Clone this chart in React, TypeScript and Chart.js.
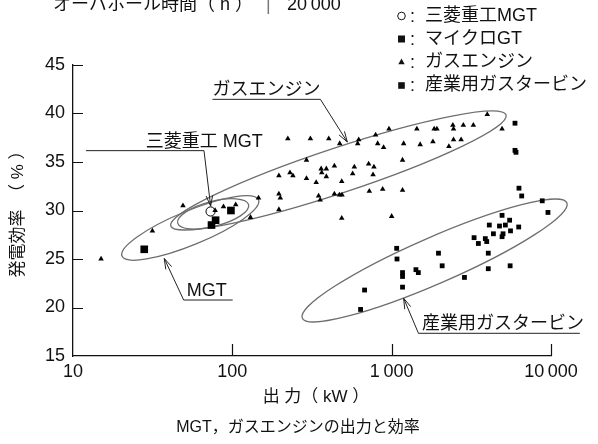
import { useEffect, useRef } from "react";
import { Chart, registerables } from "chart.js";

Chart.register(...registerables);

type Pt = [number, number];

// Output (kW) vs. generating efficiency (%)
const X_TICKS = [10, 100, 1000, 10000];
const X_TICK_LABELS = ["10", "100", "1\u2009000", "10\u2009000"];
const Y_MIN = 15;
const Y_MAX = 45;
const Y_STEP = 5;

const LEGEND_LABELS = ["三菱重工MGT", "マイクロGT", "ガスエンジン", "産業用ガスタービン"];

const MHI_MGT: Pt[] = [[73, 29.9]];

const MICRO_GT: Pt[] = [
  [28, 26.0], [74, 28.5], [78.5, 29.0], [98, 30.0],
];

const GAS_ENGINE: Pt[] = [
  [15, 25.0], [31.5, 27.9], [49, 30.5], [78, 30.0], [88, 30.4], [105, 30.6],
  [130, 29.3], [146, 31.3], [196, 30.1], [196, 31.7], [200, 31.3], [196, 33.6],
  [230, 33.9], [240, 33.6], [292, 33.3], [292, 35.2], [223, 37.4], [309, 37.4],
  [403, 37.4], [472, 36.9], [336, 32.9], [361, 34.3], [389, 34.3], [364, 33.9],
  [389, 33.5], [437, 34.6], [348, 31.5], [356, 31.1], [437, 31.7], [470, 31.6],
  [488, 31.6], [486, 33.0], [486, 29.2], [569, 33.8], [583, 34.5], [612, 36.9],
  [621, 37.3], [717, 34.8], [774, 34.5], [764, 33.7], [724, 32.0], [878, 32.2],
  [793, 37.8], [817, 36.9], [890, 36.5], [962, 38.4], [1000, 29.4], [1170, 32.1],
  [1170, 35.2], [1189, 36.9], [1439, 38.4], [1510, 36.8], [1815, 37.1], [1849, 38.4],
  [1923, 38.4], [2286, 36.6], [2421, 38.8], [2445, 38.4], [2445, 37.3], [2728, 37.3],
  [2817, 38.8], [3256, 38.8], [3981, 39.9], [4929, 38.4],
];

const INDUSTRIAL_GT: Pt[] = [
  [5943, 39.0], [5943, 36.2], [6030, 36.0], [6295, 32.3], [6548, 31.5], [8810, 31.0],
  [9570, 29.8], [4930, 29.5], [5500, 29.0], [4100, 28.5], [4750, 28.4], [5170, 28.5],
  [6270, 28.3], [5570, 27.9], [4350, 27.6], [5000, 27.6], [4930, 27.3], [3290, 27.2],
  [3500, 26.6], [3870, 27.1], [3950, 26.8], [4040, 25.6], [4040, 24.0], [5540, 24.3],
  [2863, 23.1], [1967, 25.6], [2075, 24.3], [1075, 26.1], [1080, 25.0], [1170, 23.6],
  [1170, 23.2], [1420, 23.9], [1470, 23.6], [1170, 22.1], [676, 21.8], [638, 19.8],
];

// Grouping envelopes: two tips in data space and minor/major ratio
const ENVELOPES: { from: Pt; to: Pt; ratio: number }[] = [
  { from: [41.1, 28.4], to: [5225, 39.85], ratio: 0.128 },
  { from: [20.3, 25.3], to: [146, 31.1], ratio: 0.23 },
  { from: [45.4, 28.7], to: [126.5, 30.6], ratio: 0.34 },
  { from: [275, 18.9], to: [12580, 30.8], ratio: 0.16 },
];

// Callouts: polyline ending at the arrow tip, text sitting on the first segment
const CALLOUTS: { text: string; textX: number; path: Pt[] }[] = [
  { text: "ガスエンジン", textX: 75, path: [[75, 41.46], [357, 41.46], [527, 37.06]] },
  { text: "三菱重工 MGT", textX: 28.6, path: [[12.06, 36.17], [66.4, 36.17], [73.1, 30.45]] },
  { text: "MGT", textX: 51.8, path: [[100.5, 20.77], [49.5, 20.77], [37.4, 25.05]] },
  { text: "産業用ガスタービン", textX: 1549, path: [[15170, 17.34], [1473, 17.34], [1189, 20.95]] },
];

const FONT = '"Liberation Sans", "Noto Sans CJK JP", sans-serif';
const INK = "#111";

const toPts = (arr: Pt[]) => arr.map(([x, y]) => ({ x, y }));

function arrowHead(ctx: CanvasRenderingContext2D, fx: number, fy: number, tx: number, ty: number) {
  const ang = Math.atan2(ty - fy, tx - fx);
  const len = 11;
  const spread = 0.3;
  ctx.beginPath();
  ctx.moveTo(tx - len * Math.cos(ang - spread), ty - len * Math.sin(ang - spread));
  ctx.lineTo(tx, ty);
  ctx.lineTo(tx - len * Math.cos(ang + spread), ty - len * Math.sin(ang + spread));
  ctx.stroke();
}

const overlay = {
  id: "overlay",
  beforeDatasetsDraw(chart: any) {
    const { ctx, scales } = chart;
    const xs = scales.x;
    const ys = scales.y;
    ctx.save();
    ctx.strokeStyle = "#6e6e6e";
    ctx.lineWidth = 1.3;
    for (const e of ENVELOPES) {
      const x1 = xs.getPixelForValue(e.from[0]);
      const y1 = ys.getPixelForValue(e.from[1]);
      const x2 = xs.getPixelForValue(e.to[0]);
      const y2 = ys.getPixelForValue(e.to[1]);
      const a = Math.hypot(x2 - x1, y2 - y1) / 2;
      ctx.beginPath();
      ctx.ellipse((x1 + x2) / 2, (y1 + y2) / 2, a, a * e.ratio, Math.atan2(y2 - y1, x2 - x1), 0, Math.PI * 2);
      ctx.stroke();
    }
    ctx.restore();
  },
  afterDraw(chart: any) {
    const { ctx, scales, chartArea } = chart;
    const xs = scales.x;
    const ys = scales.y;
    ctx.save();

    // inward tick marks
    ctx.strokeStyle = INK;
    ctx.lineWidth = 1.2;
    ctx.beginPath();
    for (const v of X_TICKS.slice(1)) {
      const px = Math.round(xs.getPixelForValue(v)) + 0.5;
      ctx.moveTo(px, chartArea.bottom);
      ctx.lineTo(px, chartArea.bottom - 12);
    }
    for (let v = Y_MIN + Y_STEP; v <= Y_MAX; v += Y_STEP) {
      const py = Math.round(ys.getPixelForValue(v)) + 0.5;
      ctx.moveTo(chartArea.left, py);
      ctx.lineTo(chartArea.left + 10, py);
    }
    ctx.stroke();

    // callouts
    ctx.strokeStyle = "#222";
    ctx.lineWidth = 1;
    ctx.fillStyle = INK;
    ctx.font = `18px ${FONT}`;
    ctx.textAlign = "left";
    ctx.textBaseline = "alphabetic";
    for (const c of CALLOUTS) {
      const pts = c.path.map(([x, y]) => [xs.getPixelForValue(x), ys.getPixelForValue(y)]);
      ctx.beginPath();
      ctx.moveTo(pts[0][0], pts[0][1]);
      for (let i = 1; i < pts.length; i++) ctx.lineTo(pts[i][0], pts[i][1]);
      ctx.stroke();
      const n = pts.length;
      arrowHead(ctx, pts[n - 2][0], pts[n - 2][1], pts[n - 1][0], pts[n - 1][1]);
      ctx.fillText(c.text, xs.getPixelForValue(c.textX), pts[0][1] - 4);
    }

    // legend block
    const lx = 401.5;
    const rows = [16, 39, 62, 85.5];
    ctx.fillStyle = INK;
    ctx.strokeStyle = INK;
    ctx.lineWidth = 1;
    ctx.beginPath();
    ctx.arc(lx, rows[0], 3.8, 0, Math.PI * 2);
    ctx.stroke();
    ctx.fillRect(lx - 3.5, rows[1] - 3.5, 7, 7);
    ctx.beginPath();
    ctx.moveTo(lx, rows[2] - 3.5);
    ctx.lineTo(lx + 3.2, rows[2] + 2.2);
    ctx.lineTo(lx - 3.2, rows[2] + 2.2);
    ctx.closePath();
    ctx.fill();
    ctx.fillRect(lx - 3.3, rows[3] - 3.3, 6.6, 6.6);
    ctx.font = `18px ${FONT}`;
    ctx.textBaseline = "middle";
    LEGEND_LABELS.forEach((t, i) => {
      ctx.textAlign = "center";
      ctx.fillText(":", 412.5, rows[i] + 1);
      ctx.textAlign = "left";
      ctx.fillText(t, 425, rows[i]);
    });

    // header line cut off at the top
    ctx.textBaseline = "alphabetic";
    ctx.textAlign = "left";
    ctx.fillText("オーバホール時間（ h ）", 53, 10);
    ctx.fillStyle = "#777";
    ctx.fillText("|", 266, 10);
    ctx.fillStyle = INK;
    ctx.fillText("20\u2009000", 287, 10);

    // axis titles and caption
    ctx.textAlign = "center";
    ctx.textBaseline = "middle";
    ctx.font = `17px ${FONT}`;
    ctx.fillText("出 力（ kW ）", 316, 397);
    ctx.save();
    ctx.translate(18.5, 210);
    ctx.rotate(-Math.PI / 2);
    ctx.fillText("発電効率　（ % ）", 0, 0);
    ctx.restore();
    ctx.font = `16px ${FONT}`;
    ctx.fillText("MGT，ガスエンジンの出力と効率", 298, 428);

    ctx.restore();
  },
};

export default function App() {
  const ref = useRef<HTMLCanvasElement | null>(null);

  useEffect(() => {
    if (!ref.current) return;
    Chart.defaults.font.family = FONT;
    const chart = new Chart(ref.current, {
      type: "scatter",
      data: {
        datasets: [
          {
            label: LEGEND_LABELS[2],
            data: toPts(GAS_ENGINE),
            pointStyle: "triangle",
            radius: 3.2,
            backgroundColor: "#000",
            borderColor: "#000",
            borderWidth: 0,
          },
          {
            label: LEGEND_LABELS[3],
            data: toPts(INDUSTRIAL_GT),
            pointStyle: "rect",
            radius: 3.4,
            backgroundColor: "#000",
            borderColor: "#000",
            borderWidth: 0,
          },
          {
            label: LEGEND_LABELS[1],
            data: toPts(MICRO_GT),
            pointStyle: "rect",
            radius: 5.4,
            backgroundColor: "#000",
            borderColor: "#000",
            borderWidth: 0,
          },
          {
            label: LEGEND_LABELS[0],
            data: toPts(MHI_MGT),
            pointStyle: "circle",
            radius: 4.6,
            backgroundColor: "#fff",
            borderColor: "#000",
            borderWidth: 1,
          },
        ],
      },
      options: {
        responsive: false,
        animation: false,
        devicePixelRatio: 1,
        events: [],
        layout: { padding: { top: 65, right: 47, left: 0, bottom: 0 } },
        plugins: { legend: { display: false }, tooltip: { enabled: false }, title: { display: false } },
        scales: {
          x: {
            type: "logarithmic",
            min: X_TICKS[0],
            max: X_TICKS[X_TICKS.length - 1],
            afterBuildTicks: (s: any) => {
              s.ticks = X_TICKS.map((v) => ({ value: v }));
            },
            afterFit: (s: any) => {
              s.height = 88;
            },
            ticks: {
              callback: (_v: any, i: number) => X_TICK_LABELS[i],
              font: { size: 18, family: FONT },
              color: INK,
              padding: 5,
              maxRotation: 0,
              autoSkip: false,
            },
            grid: { display: false, drawTicks: false },
            border: { display: true, color: INK, width: 1.3 },
          },
          y: {
            min: Y_MIN,
            max: Y_MAX,
            afterFit: (s: any) => {
              s.width = 73;
            },
            ticks: {
              stepSize: Y_STEP,
              font: { size: 18, family: FONT },
              color: INK,
              padding: 8,
            },
            grid: { display: false, drawTicks: false },
            border: { display: true, color: INK, width: 1.3 },
          },
        },
      },
      plugins: [overlay],
    });
    return () => chart.destroy();
  }, []);

  return (
    <div style={{ position: "absolute", left: 0, top: 0, width: 598, height: 444, background: "#fff" }}>
      <canvas ref={ref} width={598} height={444} style={{ display: "block" }} />
    </div>
  );
}
